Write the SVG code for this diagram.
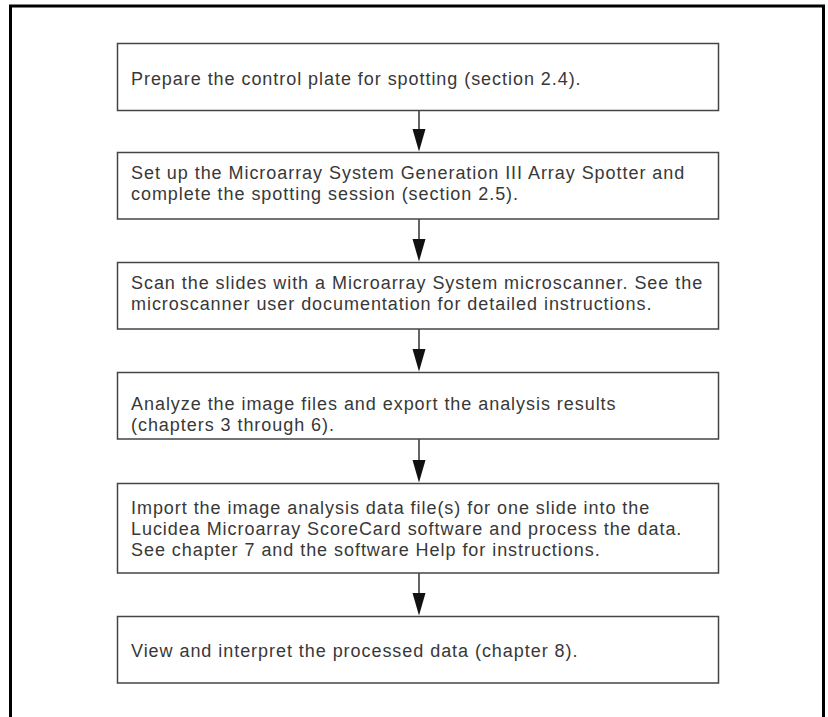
<svg xmlns="http://www.w3.org/2000/svg" width="828" height="717" viewBox="0 0 828 717">
<defs>
<style>
.frame{fill:none;stroke:#000;stroke-width:3}
.box{fill:#fff;stroke:#444;stroke-width:1.5}
.t{font-family:"Liberation Sans",Arial,sans-serif;font-size:18px;fill:#383838;letter-spacing:0.95px}
.c{stroke:#111;stroke-width:1.3;fill:none}
.h{fill:#111}
</style>
</defs>
<rect width="828" height="717" fill="#fff"/>
<path class="frame" d="M10.5,720 V6 H823.5 V720"/>
<g id="connectors">
<line class="c" x1="419" y1="111" x2="419" y2="135"/>
<polygon class="h" points="412.5,129 425.5,129 419,151.5"/>
<line class="c" x1="419" y1="219" x2="419" y2="245"/>
<polygon class="h" points="412.5,239 425.5,239 419,261.5"/>
<line class="c" x1="419" y1="329" x2="419" y2="355"/>
<polygon class="h" points="412.5,349 425.5,349 419,371.5"/>
<line class="c" x1="419" y1="439" x2="419" y2="466"/>
<polygon class="h" points="412.5,460 425.5,460 419,482.5"/>
<line class="c" x1="419" y1="573" x2="419" y2="599"/>
<polygon class="h" points="412.5,593 425.5,593 419,615.5"/>
</g>
<g id="n1"><rect class="box" x="117.5" y="43.5" width="601" height="67"/>
<text class="t" x="131" y="85">Prepare the control plate for spotting (section 2.4).</text></g>
<g id="n2"><rect class="box" x="117.5" y="152.5" width="601" height="66.5"/>
<text class="t" x="131" y="179">Set up the Microarray System Generation III Array Spotter and</text>
<text class="t" x="131" y="200">complete the spotting session (section 2.5).</text></g>
<g id="n3"><rect class="box" x="117.5" y="262.5" width="601" height="66.5"/>
<text class="t" x="131" y="289">Scan the slides with a Microarray System microscanner. See the</text>
<text class="t" x="131" y="310">microscanner user documentation for detailed instructions.</text></g>
<g id="n4"><rect class="box" x="117.5" y="372.5" width="601" height="66.5"/>
<text class="t" x="131" y="410">Analyze the image files and export the analysis results</text>
<text class="t" x="131" y="431">(chapters 3 through 6).</text></g>
<g id="n5"><rect class="box" x="117.5" y="483.5" width="601" height="89.5"/>
<text class="t" x="131" y="514">Import the image analysis data file(s) for one slide into the</text>
<text class="t" x="131" y="535">Lucidea Microarray ScoreCard software and process the data.</text>
<text class="t" x="131" y="556">See chapter 7 and the software Help for instructions.</text></g>
<g id="n6"><rect class="box" x="117.5" y="616.5" width="601" height="66.5"/>
<text class="t" x="131" y="657">View and interpret the processed data (chapter 8).</text></g>
</svg>
